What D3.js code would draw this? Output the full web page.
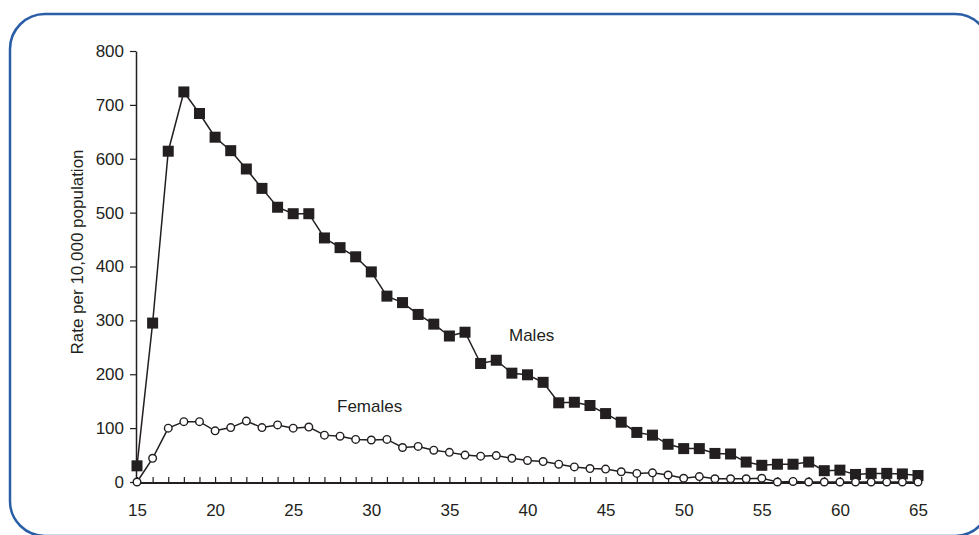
<!DOCTYPE html>
<html>
<head>
<meta charset="utf-8">
<script src="https://cdn.jsdelivr.net/npm/d3@7"></script>
<style>
  body { margin: 0; background: #fff; }
  svg { display: block; }
  text { font-family: "Liberation Sans", Arial, sans-serif; fill: #231f20; }
</style>
</head>
<body>
<svg id="chart"></svg>
<script>
const ages = d3.range(15, 66)
const males = [30, 295, 614, 724, 684, 640, 615, 581, 545, 510,
    498, 498, 453, 435, 418, 390, 345, 333, 311, 293,
    271, 278, 220, 226, 202, 199, 185, 147, 148, 142,
    127, 111, 92, 87, 70, 62, 62, 53, 52, 37,
    31, 33, 33, 37, 21, 22, 14, 16, 16, 15, 12]
const females = [0, 44, 100, 112, 112, 95, 101, 113, 101, 106,
    100, 102, 87, 85, 79, 78, 79, 64, 66, 59,
    55, 50, 48, 49, 44, 40, 38, 33, 28, 25,
    24, 19, 16, 17, 13, 7, 10, 6, 6, 6,
    7, 0, 1, 0, 0, 0, 0, 0, 0, 0, 0]
const yTicks = [0, 100, 200, 300, 400, 500, 600, 700, 800]
const xLabels = [15, 20, 25, 30, 35, 40, 45, 50, 55, 60, 65]

const ink = "#231f20"
const fontSize = 17

const svg = d3.select("#chart")
    .attr("width", 979)
    .attr("height", 535)

// rounded blue frame
svg.append("rect")
    .attr("x", 10)
    .attr("y", 14)
    .attr("width", 980)
    .attr("height", 522)
    .attr("rx", 35)
    .attr("fill", "none")
    .attr("stroke", "#2a5ea6")
    .attr("stroke-width", 2.5)

const x = d3.scaleLinear().domain([15, 65]).range([137, 918])
const y = d3.scaleLinear().domain([0, 800]).range([482, 51])

// y axis
const yAxis = svg.append("g")
    .attr("transform", "translate(136,0)")
    .call(d3.axisLeft(y).tickValues(yTicks).tickSize(6).tickSizeOuter(0).tickPadding(6))
yAxis.select(".domain").attr("stroke", ink).attr("stroke-width", 1.5)
yAxis.selectAll(".tick line").attr("stroke", ink).attr("stroke-width", 1.2)
yAxis.selectAll(".tick text")
    .attr("font-size", fontSize)
    .attr("font-family", "Liberation Sans, Arial, sans-serif")
    .attr("fill", ink)

// x axis, ticks point up, labels every 5 years
const xAxis = svg.append("g")
    .attr("transform", "translate(0,483)")
    .call(d3.axisBottom(x)
        .tickValues(ages)
        .tickSize(-6)
        .tickSizeOuter(0)
        .tickPadding(21)
        .tickFormat(d => xLabels.includes(d) ? d : ""))
xAxis.select(".domain").attr("stroke", ink).attr("stroke-width", 2.2)
    .attr("d", "M136,0H920")
xAxis.selectAll(".tick line").attr("stroke", ink).attr("stroke-width", 1.2)
xAxis.selectAll(".tick text")
    .attr("font-size", fontSize)
    .attr("font-family", "Liberation Sans, Arial, sans-serif")
    .attr("fill", ink)

// y axis title
svg.append("text")
    .attr("transform", "translate(83,252) rotate(-90)")
    .attr("text-anchor", "middle")
    .attr("font-size", fontSize)
    .text("Rate per 10,000 population")

const line = d3.line()
    .x((d, i) => x(ages[i]))
    .y(d => y(d))

// females
svg.append("path")
    .datum(females)
    .attr("d", line)
    .attr("fill", "none")
    .attr("stroke", ink)
    .attr("stroke-width", 1.5)

// males
svg.append("path")
    .datum(males)
    .attr("d", line)
    .attr("fill", "none")
    .attr("stroke", ink)
    .attr("stroke-width", 1.5)

svg.selectAll(".male")
    .data(males)
    .join("rect")
    .attr("class", "male")
    .attr("x", (d, i) => x(ages[i]) - 5.5)
    .attr("y", d => y(d) - 5.5)
    .attr("width", 11)
    .attr("height", 11)
    .attr("fill", ink)

svg.selectAll(".female")
    .data(females)
    .join("circle")
    .attr("class", "female")
    .attr("cx", (d, i) => x(ages[i]))
    .attr("cy", d => y(d))
    .attr("r", 3.8)
    .attr("fill", "#fff")
    .attr("stroke", ink)
    .attr("stroke-width", 1.4)

svg.append("text")
    .attr("x", 509)
    .attr("y", 341)
    .attr("font-size", fontSize)
    .text("Males")

svg.append("text")
    .attr("x", 337)
    .attr("y", 412)
    .attr("font-size", fontSize)
    .text("Females")
</script>
</body>
</html>
